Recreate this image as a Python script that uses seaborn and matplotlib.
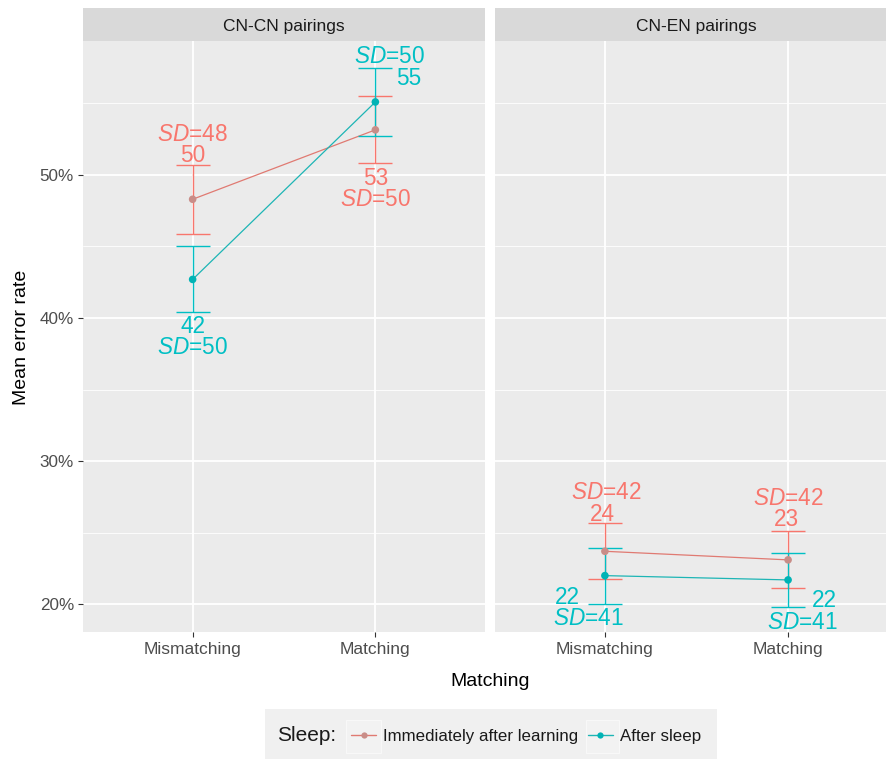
import matplotlib
matplotlib.use("Agg")
import matplotlib.pyplot as plt
from matplotlib.lines import Line2D
from matplotlib.patches import Rectangle
import seaborn as sns
import pandas as pd

# ---------------- data ----------------
pairings = ["CN-CN pairings", "CN-EN pairings"]
matching = ["Mismatching", "Matching"]
sleep = ["Immediately after learning", "After sleep"]

# mean error rate (%) per pairing: [Mismatching, Matching]
mean_immediate = {"CN-CN pairings": [48.3, 53.15], "CN-EN pairings": [23.7, 23.1]}
mean_after = {"CN-CN pairings": [42.7, 55.1], "CN-EN pairings": [22.0, 21.7]}
# standard errors (%)
se_immediate = {"CN-CN pairings": [2.4, 2.35], "CN-EN pairings": [1.95, 2.0]}
se_after = {"CN-CN pairings": [2.3, 2.35], "CN-EN pairings": [1.95, 1.9]}
# annotation texts
lab_mean_immediate = {"CN-CN pairings": ["50", "53"], "CN-EN pairings": ["24", "23"]}
lab_mean_after = {"CN-CN pairings": ["42", "55"], "CN-EN pairings": ["22", "22"]}
lab_sd_immediate = {"CN-CN pairings": ["48", "50"], "CN-EN pairings": ["42", "42"]}
lab_sd_after = {"CN-CN pairings": ["50", "50"], "CN-EN pairings": ["41", "41"]}

y_ticks = [20, 30, 40, 50]
y_ticklabels = ["20%", "30%", "40%", "50%"]
y_minor = [25, 35, 45, 55]

rows = []
for p in pairings:
    for i, m in enumerate(matching):
        rows.append(dict(Pairing=p, Matching=m, x=i, Sleep=sleep[0],
                         mean=mean_immediate[p][i], se=se_immediate[p][i],
                         lab=lab_mean_immediate[p][i], sd=lab_sd_immediate[p][i]))
        rows.append(dict(Pairing=p, Matching=m, x=i, Sleep=sleep[1],
                         mean=mean_after[p][i], se=se_after[p][i],
                         lab=lab_mean_after[p][i], sd=lab_sd_after[p][i]))
df = pd.DataFrame(rows)

# ---------------- styling ----------------
RED = "#F8766D"
TEAL = "#00BFC4"
palette = {sleep[0]: RED, sleep[1]: TEAL}
line_palette = {sleep[0]: "#E07A72", sleep[1]: "#1DB5B5"}
point_palette = {sleep[0]: "#C98D88", sleep[1]: "#00B3B5"}

sns.set_theme(style="darkgrid")
plt.rcParams["font.family"] = ["Liberation Sans", "DejaVu Sans"]
plt.rcParams["mathtext.fontset"] = "custom"
plt.rcParams["mathtext.rm"] = "Liberation Sans"
plt.rcParams["mathtext.it"] = "Liberation Sans:italic"

W, H = 887, 759
fig = plt.figure(figsize=(W / 100, H / 100), dpi=100)
fig.patch.set_facecolor("white")


def rect(x0, y0, x1, y1):
    return [x0 / W, 1 - y1 / H, (x1 - x0) / W, (y1 - y0) / H]


panel_px = [(83, 485, -0.6, 1.6), (495, 887, -0.6, 1.54)]
top_px, bot_px = 41, 632
ylim = (18.06, 59.36)

# label placement: (anchor, (dx, dy) of mean label, (dx, dy) of SD label), pixels
placement = {
    (0, 0, 0): ("top", (0, 3), (0, 24)),
    (0, 0, 1): ("bottom", (0, -21), (0, -42)),
    (0, 1, 0): ("bottom", (0, -22), (0, -43)),
    (0, 1, 1): ("top", (33, -17), (14, 5)),
    (1, 0, 0): ("top", (-3, 2), (1, 24)),
    (1, 0, 1): ("bottom", (-38, 0), (-17, -21)),
    (1, 1, 0): ("top", (-2, 5), (0, 26)),
    (1, 1, 1): ("bottom", (36, 0), (14, -22)),
}

for pi, p in enumerate(pairings):
    x0, x1, xl0, xl1 = panel_px[pi]
    ax = fig.add_axes(rect(x0, top_px, x1, bot_px))
    ax.set_facecolor("#EBEBEB")
    sub = df[df.Pairing == p]

    sns.lineplot(data=sub, x="x", y="mean", hue="Sleep", hue_order=sleep,
                 palette=line_palette, estimator=None, sort=False,
                 linewidth=0.9, legend=False, ax=ax, zorder=3)
    for si, s in enumerate(sleep):
        ss = sub[sub.Sleep == s]
        ax.errorbar(ss["x"], ss["mean"], yerr=ss["se"], fmt="none",
                    ecolor=palette[s], elinewidth=1.0, capsize=12.5,
                    capthick=1.0, zorder=4)
    sns.scatterplot(data=sub, x="x", y="mean", hue="Sleep", hue_order=sleep,
                    palette=point_palette, s=30, edgecolor="none",
                    legend=False, ax=ax, zorder=5)

    for _, r in sub.iterrows():
        si = sleep.index(r["Sleep"])
        mi = int(r["x"])
        anchor, (dxm, dym), (dxs, dys) = placement[(pi, mi, si)]
        yc = r["mean"] + r["se"] if anchor == "top" else r["mean"] - r["se"]
        col = palette[r["Sleep"]]
        ax.annotate(r["lab"], xy=(mi, yc), xytext=(dxm, dym),
                    textcoords="offset pixels", ha="center", va="baseline",
                    fontsize=16.3, color=col, zorder=6)
        ax.annotate(r"$\mathit{SD}$=" + r["sd"], xy=(mi, yc), xytext=(dxs, dys),
                    textcoords="offset pixels", ha="center", va="baseline",
                    fontsize=16.3, color=col, zorder=6)

    ax.set_xlim(xl0, xl1)
    ax.set_ylim(*ylim)
    ax.set_xticks([0, 1])
    ax.set_xticklabels(matching)
    ax.set_yticks(y_ticks)
    ax.set_yticks(y_minor, minor=True)
    ax.grid(which="major", color="white", linewidth=1.3)
    ax.grid(which="minor", axis="y", color="white", linewidth=0.6)
    ax.set_axisbelow(True)
    for sp in ax.spines.values():
        sp.set_visible(False)
    ax.set_xlabel("")
    ax.set_ylabel("")
    ax.tick_params(axis="x", which="major", length=3.5, width=0.8,
                   color="#333333", pad=4, labelsize=12.5, labelcolor="#4D4D4D",
                   bottom=True)
    ax.tick_params(which="minor", length=0)
    if pi == 0:
        ax.set_yticklabels(y_ticklabels)
        ax.tick_params(axis="y", which="major", length=3.5, width=0.8,
                       color="#333333", pad=3, labelsize=12.3,
                       labelcolor="#4D4D4D", left=True)
    else:
        ax.tick_params(axis="y", which="both", left=False, labelleft=False)

    # strip
    sax = fig.add_axes(rect(x0, 8, x1, top_px))
    sax.set_facecolor("#D9D9D9")
    sax.set_xticks([])
    sax.set_yticks([])
    sax.grid(False)
    for sp in sax.spines.values():
        sp.set_visible(False)
    if pi == 0:
        sax.text(0.5, 0.45, p, ha="center", va="center", fontsize=12.5,
                 color="#1A1A1A", transform=sax.transAxes)
    else:
        # full strip would span to 898 px; centre the text on that width
        sax.text((696.5 - x0) / (x1 - x0), 0.45, p, ha="center", va="center",
                 fontsize=12.5, color="#1A1A1A", transform=sax.transAxes)

# axis titles
fig.text(22 / W, 1 - 337 / H, "Mean error rate", rotation=90, ha="center",
         va="center", fontsize=14, color="black")
fig.text(490 / W, 1 - 686 / H, "Matching", ha="center", va="baseline",
         fontsize=14, color="black")

# legend background and key boxes
fig.patches.append(Rectangle((265 / W, 0), (717 - 265) / W, 1 - 709 / H,
                             transform=fig.transFigure, facecolor="#F0F0F0",
                             edgecolor="none", zorder=0))
for kx0, kx1 in [(346, 381), (586, 619)]:
    fig.patches.append(Rectangle((kx0 / W, 1 - 753 / H), (kx1 - kx0) / W,
                                 33 / H, transform=fig.transFigure,
                                 facecolor="#F2F2F2", edgecolor="#F8F8F8",
                                 lw=0.8, zorder=0.5))
fig.text(277 / W, 1 - 741 / H, "Sleep:", ha="left", va="baseline",
         fontsize=15, color="#1A1A1A")
handles = [Line2D([0], [0], color=line_palette[s], lw=1.0, marker="o",
                  markersize=4.5, markerfacecolor=point_palette[s],
                  markeredgecolor="none") for s in sleep]
leg = fig.legend(handles, sleep, ncol=2, loc="center left",
                 bbox_to_anchor=(351 / W, 1 - 736 / H), frameon=False,
                 fontsize=12.2, handlelength=1.5, handletextpad=0.4,
                 columnspacing=0.55, borderaxespad=0, borderpad=0)
for t in leg.get_texts():
    t.set_color("#1A1A1A")

fig.savefig("out.png", dpi=100)
